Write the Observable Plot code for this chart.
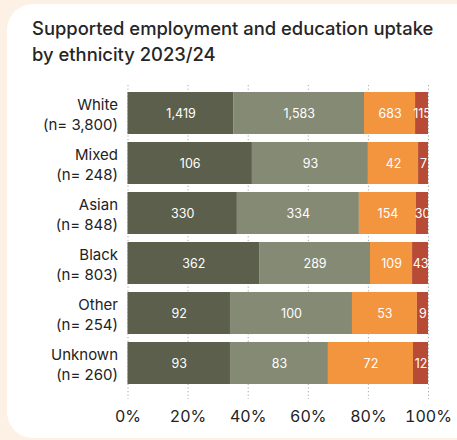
<!DOCTYPE html>
<html><head><meta charset="utf-8">
<script src="https://cdn.jsdelivr.net/npm/d3@7"></script>
<script src="https://cdn.jsdelivr.net/npm/@observablehq/plot@0.6"></script>
<style>
body{margin:0;background:#fdf1e5;width:457px;height:440px;overflow:hidden;font-family:Inter,sans-serif;}
#card{position:absolute;left:7px;top:4px;width:480px;height:434px;background:#fff;border-radius:26px;}
#title{position:absolute;left:32px;top:15px;font-size:18.4px;font-weight:500;line-height:26px;color:#262626;white-space:nowrap;}
#chart{position:absolute;left:0;top:80px;}
</style></head><body>
<div id="card"></div>
<div id="title">Supported employment and education uptake<br>by ethnicity 2023/24</div>
<div id="chart"></div>
<script>
const groups = ["White","Mixed","Asian","Black","Other","Unknown"];
const totals = [3800,248,848,803,254,260];
const seriesNames = ["Series 1","Series 2","Series 3","Series 4"];
// counts shown as labels
const series1 = [1419,106,330,362,92,93];
const series2 = [1583,93,334,289,100,83];
const series3 = [683,42,154,109,53,72];
const series4 = [115,7,30,43,9,12];
// bar shares (%) as drawn in the picture
const share1 = [35.3,41.4,36.4,43.8,34.1,34.1];
const share2 = [43.4,38.6,40.6,36.9,40.6,32.6];
const share3 = [17.0,16.7,19.0,14.0,21.6,28.3];
const share4 = [4.3,3.3,4.0,5.3,3.7,5.0];
const colors = ["#5b5f4b","#858a74","#f3953f","#b74b35"];
const xTicks = [0,0.2,0.4,0.6,0.8,1];

const allSeries = [series1,series2,series3,series4];
const allShares = [share1,share2,share3,share4];
const data = [];
groups.forEach((g,i)=>{
  allSeries.forEach((s,j)=>data.push({group:g,series:seriesNames[j],value:s[i],share:allShares[j][i]}));
});
const labelOf = Object.fromEntries(groups.map((g,i)=>[g, `${g}\n(n= ${d3.format(",")(totals[i])})`]));

const chart = Plot.plot({
  width:457, height:355,
  marginLeft:127.5, marginRight:29, marginTop:5, marginBottom:36,
  style:{background:"transparent", fontFamily:"Inter, sans-serif", color:"#222"},
  x:{domain:[0,1], ticks:xTicks, tickFormat:d3.format(".0%")},
  y:{domain:groups, range:[12,304], paddingInner:0.16, paddingOuter:0},
  color:{domain:seriesNames, range:colors},
  marks:[
    Plot.ruleX(xTicks,{stroke:"#a8a8a8",strokeDasharray:"1.2,2.4",strokeWidth:1}),
    Plot.barX(data, Plot.stackX({x:"share", y:"group", fill:"series", offset:"normalize", order:null})),
    Plot.text(data, Plot.stackX({x:"share", y:"group", z:"series", offset:"normalize", order:null, text:d=>d3.format(",")(d.value), fill:"white", fontSize:12.5, clip:true})),
    Plot.axisX({ticks:xTicks, tickFormat:d3.format(".0%"), tickSize:0, tickPadding:11, fontSize:16, fill:"#222", label:null}),
    Plot.axisY({tickSize:0, tickPadding:10, fontSize:15, fill:"#222", label:null, lineHeight:1.33, tickFormat:d=>labelOf[d]})
  ]
});
document.getElementById("chart").appendChild(chart);
</script>
</body></html>
